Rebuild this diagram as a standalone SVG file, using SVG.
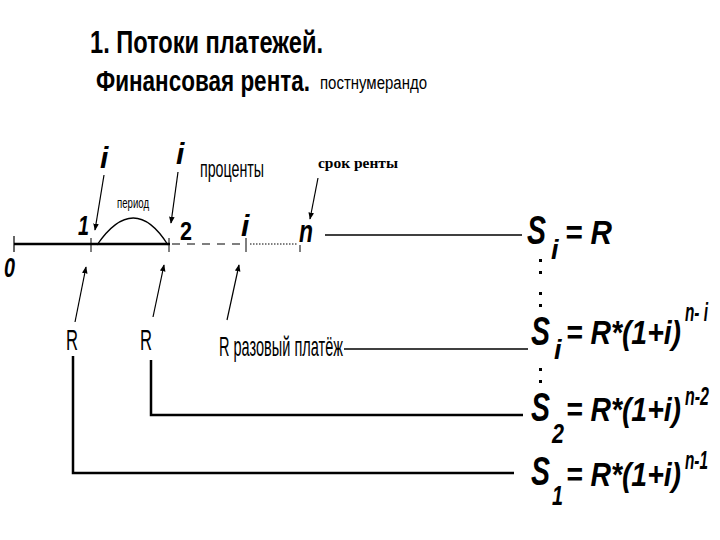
<svg xmlns="http://www.w3.org/2000/svg" width="720" height="540" viewBox="0 0 720 540">
<style>
.t{font-family:"Liberation Sans",Arial,sans-serif;fill:#000}
.s{font-family:"Liberation Serif","Times New Roman",serif;fill:#000}
.b{font-weight:bold}
.bi{font-weight:bold;font-style:italic}
.ln{stroke:#000;fill:none}
</style>
<defs>
<marker id="ah" viewBox="0 0 10 10" refX="9" refY="5" markerWidth="7" markerHeight="7" orient="auto" markerUnits="userSpaceOnUse">
<path d="M0,1 L10,5 L0,9 Z" fill="#000"/>
</marker>
</defs>
<rect width="720" height="540" fill="#fff"/>
<g id="title">
<text class="t b" x="90" y="53" font-size="31" textLength="233" lengthAdjust="spacingAndGlyphs">1. Потоки платежей.</text>
<text class="t b" x="96" y="91" font-size="29" textLength="214" lengthAdjust="spacingAndGlyphs">Финансовая рента.</text>
<text class="t" x="320" y="89" font-size="18" textLength="107" lengthAdjust="spacingAndGlyphs">постнумерандо</text>
</g>
<g id="timeline">
<line class="ln" x1="14" y1="244" x2="170" y2="244" stroke-width="2.5"/>
<line class="ln" x1="172" y1="244" x2="244" y2="244" stroke-width="1.2" stroke-dasharray="8,7"/>
<line class="ln" x1="250" y1="244" x2="298" y2="244" stroke-width="1" stroke-dasharray="1.5,1.5"/>
<line class="ln" x1="14" y1="236" x2="14" y2="252" stroke-width="1.2"/>
<line class="ln" x1="91" y1="238" x2="91" y2="252" stroke-width="1"/>
<line class="ln" x1="169" y1="238" x2="169" y2="252" stroke-width="1"/>
<line class="ln" x1="246" y1="238" x2="246" y2="252" stroke-width="1"/>
<line class="ln" x1="300" y1="245" x2="300" y2="252" stroke-width="1"/>
<path class="ln" d="M97,245 Q134,191 168,245" stroke-width="1.3"/>
<text class="t" x="117" y="208" font-size="15" textLength="32" lengthAdjust="spacingAndGlyphs">период</text>
<text class="t bi" x="4" y="277" font-size="27" textLength="11" lengthAdjust="spacingAndGlyphs">0</text>
<text class="t bi" x="78" y="235" font-size="28" textLength="11" lengthAdjust="spacingAndGlyphs">1</text>
<text class="t b" x="180" y="240" font-size="26" textLength="12" lengthAdjust="spacingAndGlyphs">2</text>
<text class="t bi" x="241" y="236" font-size="30">i</text>
<text class="t bi" x="299" y="242" font-size="32" textLength="14" lengthAdjust="spacingAndGlyphs">n</text>
<text class="t bi" x="100" y="168" font-size="30">i</text>
<text class="t bi" x="176" y="164" font-size="30">i</text>
<text class="t" x="200" y="177" font-size="24" textLength="64" lengthAdjust="spacingAndGlyphs">проценты</text>
<text class="s b" x="318" y="168" font-size="14" textLength="80" lengthAdjust="spacingAndGlyphs">срок ренты</text>
</g>
<g id="labels">
<text class="t" x="66" y="350" font-size="30" textLength="12" lengthAdjust="spacingAndGlyphs">R</text>
<text class="t" x="140" y="350" font-size="30" textLength="12" lengthAdjust="spacingAndGlyphs">R</text>
<text class="t" x="219" y="356" font-size="28" textLength="124" lengthAdjust="spacingAndGlyphs">R разовый платёж</text>
</g>
<g id="connectors">
<line class="ln" x1="104" y1="175" x2="95" y2="230" stroke-width="1.2" marker-end="url(#ah)"/>
<line class="ln" x1="178" y1="172" x2="171" y2="223" stroke-width="1.2" marker-end="url(#ah)"/>
<line class="ln" x1="318" y1="178" x2="310" y2="219" stroke-width="1.2" marker-end="url(#ah)"/>
<line class="ln" x1="75" y1="322" x2="86" y2="267" stroke-width="1.2" marker-end="url(#ah)"/>
<line class="ln" x1="153" y1="317" x2="164" y2="265" stroke-width="1.2" marker-end="url(#ah)"/>
<line class="ln" x1="227" y1="320" x2="239" y2="265" stroke-width="1.2" marker-end="url(#ah)"/>
<line class="ln" x1="325" y1="235" x2="522" y2="235" stroke-width="1.3"/>
<line class="ln" x1="344" y1="349" x2="528" y2="349" stroke-width="1.3"/>
<polyline class="ln" points="151,360 151,415 523,415" stroke-width="2.5"/>
<polyline class="ln" points="73,356 73,473 514,473" stroke-width="2.5"/>
</g>
<g id="formulas">
<text class="t bi" x="527" y="244" font-size="40" textLength="19" lengthAdjust="spacingAndGlyphs">S</text>
<text class="t bi" x="551" y="259" font-size="27">i</text>
<text class="t bi" x="565" y="244" font-size="34" textLength="47" lengthAdjust="spacingAndGlyphs">= R</text>
<g fill="#000">
<rect x="539" y="259" width="3" height="3"/><rect x="539" y="271" width="3" height="3"/>
<rect x="539" y="292" width="3" height="3"/><rect x="539" y="304" width="3" height="3"/>
<rect x="539" y="368" width="3" height="3"/><rect x="539" y="380" width="3" height="3"/>
</g>
<text class="t bi" x="531" y="345" font-size="40" textLength="19" lengthAdjust="spacingAndGlyphs">S</text>
<text class="t bi" x="554" y="359" font-size="27">i</text>
<text class="t bi" x="566" y="344" font-size="34" textLength="115" lengthAdjust="spacingAndGlyphs">= R*(1+i)</text>
<text class="t bi" x="685" y="321" font-size="26" textLength="23" lengthAdjust="spacingAndGlyphs">n- i</text>
<text class="t bi" x="531" y="421" font-size="40" textLength="19" lengthAdjust="spacingAndGlyphs">S</text>
<text class="t bi" x="552" y="443" font-size="27" textLength="12" lengthAdjust="spacingAndGlyphs">2</text>
<text class="t bi" x="566" y="421" font-size="34" textLength="115" lengthAdjust="spacingAndGlyphs">= R*(1+i)</text>
<text class="t bi" x="685" y="405" font-size="25" textLength="24" lengthAdjust="spacingAndGlyphs">n-2</text>
<text class="t bi" x="531" y="485" font-size="40" textLength="19" lengthAdjust="spacingAndGlyphs">S</text>
<text class="t bi" x="552" y="505" font-size="27" textLength="11" lengthAdjust="spacingAndGlyphs">1</text>
<text class="t bi" x="566" y="486" font-size="34" textLength="115" lengthAdjust="spacingAndGlyphs">= R*(1+i)</text>
<text class="t bi" x="685" y="469" font-size="25" textLength="23" lengthAdjust="spacingAndGlyphs">n-1</text>
</g>
</svg>
